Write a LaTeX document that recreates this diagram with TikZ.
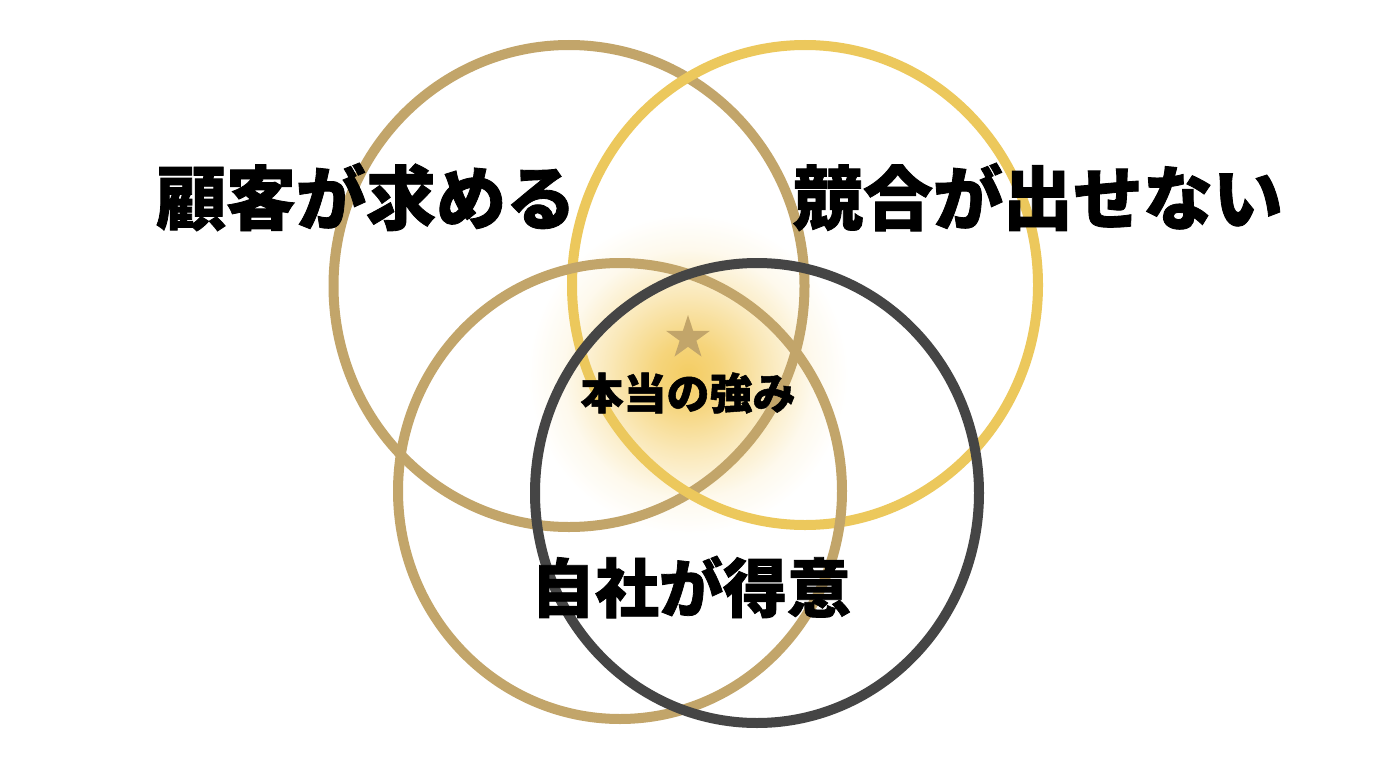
\documentclass[tikz,border=0pt]{standalone}
\usepackage{fontspec}
\newfontfamily\jp{Noto Sans CJK JP}[BoldFeatures={FakeBold=1.2}]
\usetikzlibrary{shapes.geometric}
\definecolor{tanc}{HTML}{C2A56A}
\definecolor{goldc}{HTML}{ECC85C}
\definecolor{darkc}{HTML}{454545}
\definecolor{glowc}{HTML}{F2C448}
\pgfdeclareradialshading{glowshade}{\pgfpoint{0bp}{0bp}}{color(0bp)=(glowc!85!white); color(1.0bp)=(glowc!72!white); color(2.5bp)=(glowc!38!white); color(3.9bp)=(glowc!10!white); color(5.0bp)=(white); color(50bp)=(white)}
\begin{document}
\begin{tikzpicture}[x=1pt,y=-1pt,
  ring/.style={ellipse, draw, line width=10pt, inner sep=0pt},
  bigtext/.style={font=\jp\bfseries\fontsize{70}{84}\selectfont, inner sep=0pt, text=black},
  midtext/.style={font=\jp\bfseries\fontsize{64}{76}\selectfont, inner sep=0pt, text=black},
  smalltext/.style={font=\jp\bfseries\fontsize{43}{52}\selectfont, inner sep=0pt, text=black}]
\useasboundingbox[fill=white] (0,0) rectangle (1376,768);
\shade[shading=glowshade] (688-800,374-800) rectangle (688+800,374+800);
\node[ring, draw=tanc, minimum width=471pt, minimum height=482pt] (c1) at (569,286) {};
\node[ring, draw=goldc, minimum width=466pt, minimum height=480pt] (c2) at (805,285) {};
\node[ring, draw=tanc, minimum width=444pt, minimum height=456pt] (c3) at (620,491) {};
\node[ring, draw=darkc, minimum width=444pt, minimum height=460pt] (c4) at (757,493) {};
\node[star, star points=5, star point ratio=2.618, fill=tanc, minimum size=46pt, inner sep=0pt] (star) at (688,338) {};
\node[bigtext] (t1) at (366,197) {顧客が求める};
\node[bigtext] (t2) at (1038,197) {競合が出せない};
\node[midtext] (t3) at (691,587) {自社が得意};
\node[smalltext] (t4) at (688,393) {本当の強み};
\end{tikzpicture}
\end{document}
